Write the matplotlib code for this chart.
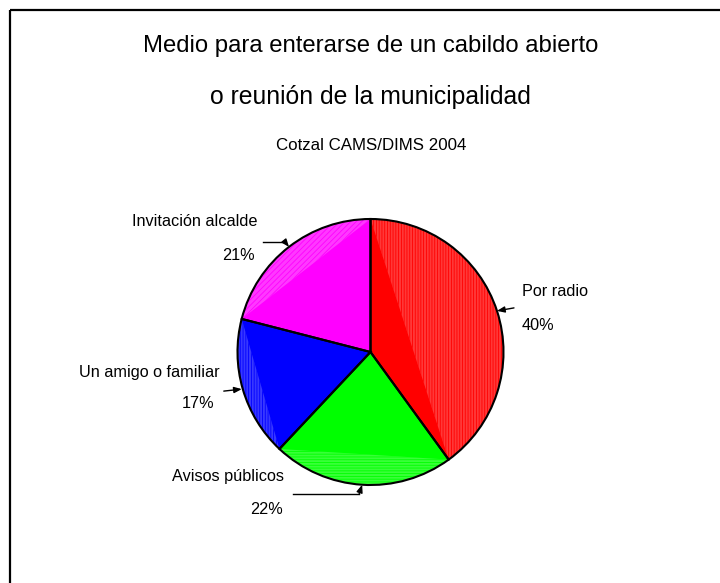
import numpy as np
import matplotlib
matplotlib.use("Agg")
import matplotlib.pyplot as plt
from matplotlib.patches import Polygon, Wedge
from matplotlib.colors import to_rgb

plt.rcParams['font.family'] = ['Liberation Sans', 'DejaVu Sans']
plt.rcParams['hatch.linewidth'] = 0.6

title_lines = ["Medio para enterarse de un cabildo abierto", "o reunión de la municipalidad"]
subtitle = "Cotzal CAMS/DIMS 2004"
categories = ["Por radio", "Avisos públicos", "Un amigo o familiar", "Invitación alcalde"]
values = [40, 22, 17, 21]
colors = ["#FF0000", "#00FF00", "#0000FF", "#FF00FF"]
hatches = ["||||||", "------", "||||||", "//////"]

W, H = 720, 583
fig = plt.figure(figsize=(W / 100, H / 100), dpi=100)
ax = fig.add_axes([0, 0, 1, 1])

def py(y):
    return H - y

cx, cy, R = 370.5, py(352), 133
wedges, _ = ax.pie(values, colors=colors, startangle=90, counterclock=False,
                   center=(cx, cy), radius=R, frame=True,
                   wedgeprops=dict(edgecolor='none', linewidth=0))
ax.set_xlim(0, W)
ax.set_ylim(0, H)
ax.set_aspect('auto')
ax.axis('off')

# frame (top and left edges)
ax.plot([10, W], [py(10), py(10)], color='black', lw=1.6, solid_capstyle='butt')
ax.plot([10, 10], [py(10), 0], color='black', lw=1.6, solid_capstyle='butt')

# titles
ax.text(371, py(46), title_lines[0], ha='center', va='center', fontsize=17.2)
ax.text(370, py(97), title_lines[1], ha='center', va='center', fontsize=17.8)
ax.text(371, py(146), subtitle, ha='center', va='center', fontsize=12.2)

# striped shading (segment between chord and arc of each wedge)
for w, c, h in zip(wedges, colors, hatches):
    t = np.linspace(np.deg2rad(w.theta1), np.deg2rad(w.theta2), 80)
    pts = np.column_stack([cx + R * np.cos(t), cy + R * np.sin(t)])
    light = tuple(0.78 * np.array(to_rgb(c)) + 0.22)
    ax.add_patch(Polygon(pts, closed=True, facecolor=light, edgecolor=c,
                         hatch=h, linewidth=0, zorder=2))
    ax.add_patch(Wedge((cx, cy), R, w.theta1, w.theta2, fill=False,
                       edgecolor='black', linewidth=1.5, zorder=3))

# mid-angle anchor points on the rim
tips = []
for w in wedges:
    a = np.deg2rad((w.theta1 + w.theta2) / 2)
    tips.append((cx + R * np.cos(a), cy + R * np.sin(a)))

fs = 11.7
arrow_kw = dict(arrowstyle='-|>,head_length=0.45,head_width=0.18', color='black', lw=1.0,
                shrinkA=0, shrinkB=0)
# Por radio (right)
tx, ty = tips[0]
ax.annotate('', xy=(tx, ty), xytext=(tx + 17, ty + 3), arrowprops=arrow_kw)
ax.text(522, py(292), categories[0], ha='left', va='center', fontsize=fs)
ax.text(522, py(326), f"{values[0]}%", ha='left', va='center', fontsize=fs)

# Avisos públicos (bottom)
tx, ty = tips[1]
ax.plot([293, tx - 3], [ty - 9, ty - 9], color='black', lw=1.0)
ax.annotate('', xy=(tx, ty), xytext=(tx - 3, ty - 9), arrowprops=arrow_kw)
ax.text(284, py(477), categories[1], ha='right', va='center', fontsize=fs)
ax.text(283, py(509), f"{values[1]}%", ha='right', va='center', fontsize=fs)

# Un amigo o familiar (left)
tx, ty = tips[2]
ax.annotate('', xy=(tx - 1, ty), xytext=(tx - 19, ty - 2), arrowprops=arrow_kw)
ax.text(220, py(372), categories[2], ha='right', va='center', fontsize=fs)
ax.text(214, py(404), f"{values[2]}%", ha='right', va='center', fontsize=fs)

# Invitación alcalde (top left)
tx, ty = tips[3]
ax.plot([263, tx - 4], [ty + 5, ty + 5], color='black', lw=1.0)
ax.annotate('', xy=(tx, ty), xytext=(tx - 4, ty + 5), arrowprops=arrow_kw)
ax.text(258, py(222), categories[3], ha='right', va='center', fontsize=fs)
ax.text(255, py(255), f"{values[3]}%", ha='right', va='center', fontsize=fs)

fig.savefig("out.png", dpi=100, facecolor='white')
